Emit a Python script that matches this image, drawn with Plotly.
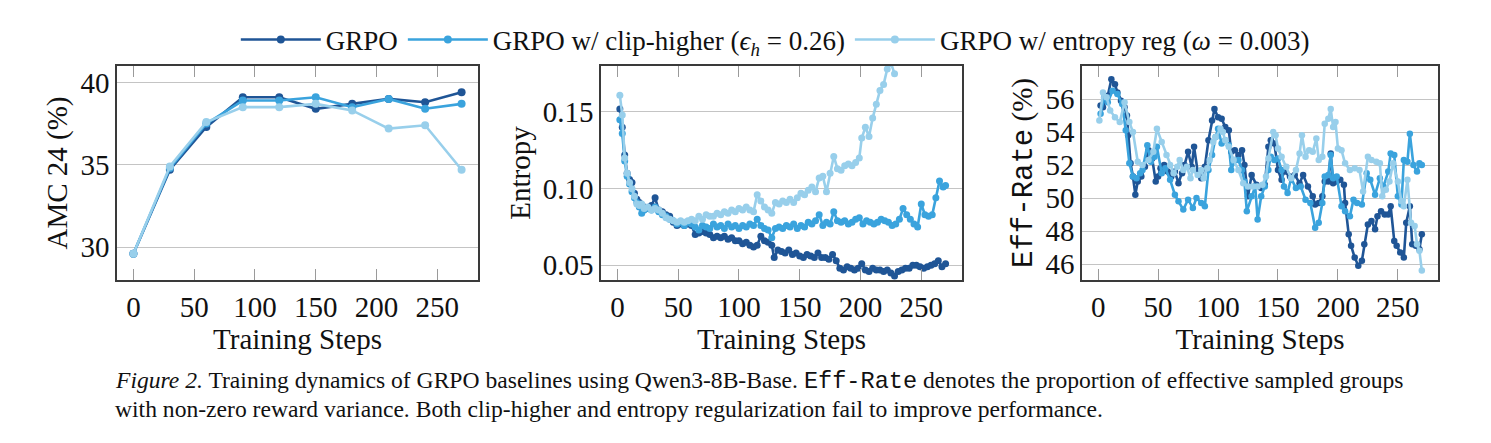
import plotly.graph_objects as go

# ---------------- data ----------------
amc_steps = [0, 30, 60, 90, 120, 150, 180, 210, 240, 270]
amc_grpo = [29.6, 34.7, 37.3, 39.1, 39.1, 38.4, 38.7, 39.0, 38.8, 39.4]
amc_clip = [29.6, 34.8, 37.5, 38.9, 38.9, 39.1, 38.5, 39.0, 38.4, 38.7]
amc_ent = [29.6, 34.9, 37.6, 38.5, 38.5, 38.7, 38.3, 37.2, 37.4, 34.7]

ent_grpo_steps = [2, 4, 6, 8, 10, 12, 14, 16, 18, 20, 22, 25, 28, 31, 34, 37, 40, 43, 46, 49, 52, 55, 58, 61, 64, 67, 70, 73, 76, 79, 82, 85, 88, 91, 94, 97, 100, 103, 106, 109, 112, 115, 118, 121, 124, 127, 129, 132, 135, 138, 141, 144, 147, 150, 153, 156, 159, 162, 165, 168, 171, 174, 177, 180, 183, 186, 189, 192, 195, 198, 201, 204, 207, 210, 213, 216, 219, 222, 225, 228, 231, 234, 237, 240, 243, 246, 249, 252, 255, 258, 261, 264, 267, 270]
ent_grpo = [0.152, 0.140, 0.122, 0.110, 0.106, 0.104, 0.097, 0.093, 0.091, 0.089, 0.088, 0.087, 0.089, 0.094, 0.086, 0.085, 0.083, 0.082, 0.078, 0.076, 0.077, 0.076, 0.077, 0.076, 0.070, 0.071, 0.072, 0.071, 0.070, 0.068, 0.069, 0.068, 0.069, 0.067, 0.068, 0.066, 0.066, 0.064, 0.065, 0.063, 0.062, 0.063, 0.069, 0.066, 0.065, 0.063, 0.055, 0.060, 0.059, 0.058, 0.060, 0.057, 0.058, 0.056, 0.055, 0.057, 0.056, 0.055, 0.058, 0.055, 0.055, 0.054, 0.057, 0.053, 0.048, 0.047, 0.049, 0.048, 0.047, 0.048, 0.051, 0.047, 0.046, 0.048, 0.047, 0.047, 0.046, 0.047, 0.045, 0.043, 0.046, 0.047, 0.048, 0.048, 0.050, 0.050, 0.049, 0.048, 0.049, 0.050, 0.051, 0.053, 0.049, 0.051]

ent_clip_steps = [2, 4, 6, 8, 10, 12, 14, 16, 18, 20, 22, 25, 28, 31, 34, 37, 40, 43, 46, 49, 52, 55, 58, 61, 64, 67, 70, 73, 76, 79, 82, 85, 88, 91, 94, 97, 100, 103, 106, 109, 112, 115, 118, 121, 124, 127, 130, 133, 136, 139, 142, 145, 148, 151, 154, 157, 160, 163, 166, 169, 172, 175, 178, 181, 184, 187, 190, 193, 196, 199, 202, 205, 208, 211, 214, 217, 220, 223, 226, 229, 232, 235, 238, 241, 244, 247, 250, 253, 256, 259, 262, 265, 268, 270]
ent_clip = [0.145, 0.136, 0.118, 0.108, 0.103, 0.098, 0.094, 0.091, 0.088, 0.084, 0.086, 0.087, 0.086, 0.088, 0.085, 0.083, 0.082, 0.080, 0.079, 0.077, 0.078, 0.076, 0.078, 0.077, 0.075, 0.073, 0.076, 0.075, 0.074, 0.077, 0.075, 0.076, 0.074, 0.077, 0.075, 0.076, 0.074, 0.076, 0.075, 0.077, 0.076, 0.080, 0.076, 0.074, 0.073, 0.068, 0.074, 0.075, 0.074, 0.076, 0.075, 0.077, 0.074, 0.076, 0.075, 0.078, 0.077, 0.079, 0.083, 0.076, 0.078, 0.077, 0.085, 0.079, 0.078, 0.079, 0.077, 0.078, 0.080, 0.081, 0.077, 0.079, 0.078, 0.077, 0.078, 0.080, 0.079, 0.078, 0.076, 0.077, 0.080, 0.087, 0.083, 0.080, 0.077, 0.075, 0.090, 0.083, 0.082, 0.083, 0.094, 0.105, 0.101, 0.102]

ent_reg_steps = [2, 4, 6, 8, 10, 12, 14, 16, 18, 20, 22, 25, 28, 31, 34, 37, 40, 43, 46, 49, 52, 55, 58, 61, 64, 67, 70, 73, 76, 79, 82, 85, 88, 91, 94, 97, 100, 103, 106, 109, 112, 115, 118, 121, 124, 127, 130, 133, 136, 139, 142, 145, 148, 151, 154, 157, 160, 163, 166, 169, 172, 175, 178, 181, 184, 187, 190, 193, 196, 199, 201, 204, 207, 210, 213, 216, 219, 222, 225, 228]
ent_reg = [0.161, 0.148, 0.120, 0.110, 0.104, 0.100, 0.095, 0.090, 0.089, 0.090, 0.087, 0.088, 0.086, 0.087, 0.086, 0.084, 0.081, 0.080, 0.079, 0.078, 0.079, 0.078, 0.079, 0.080, 0.079, 0.082, 0.080, 0.083, 0.082, 0.082, 0.084, 0.083, 0.085, 0.084, 0.086, 0.085, 0.087, 0.086, 0.088, 0.086, 0.085, 0.096, 0.092, 0.088, 0.086, 0.084, 0.091, 0.090, 0.092, 0.091, 0.093, 0.091, 0.094, 0.097, 0.096, 0.099, 0.101, 0.098, 0.107, 0.108, 0.098, 0.110, 0.121, 0.113, 0.112, 0.115, 0.116, 0.115, 0.117, 0.120, 0.133, 0.140, 0.134, 0.146, 0.155, 0.164, 0.168, 0.178, 0.182, 0.175]

eff_grpo_steps = [2, 4, 6, 8, 11, 14, 16, 19, 22, 24, 25, 27, 29, 31, 33, 36, 39, 42, 45, 48, 50, 52, 55, 58, 61, 64, 67, 70, 72, 75, 78, 80, 83, 86, 89, 92, 95, 97, 100, 103, 106, 109, 111, 114, 117, 120, 122, 125, 128, 132, 136, 139, 142, 144, 147, 150, 153, 155, 160, 164, 168, 171, 175, 179, 181, 184, 187, 189, 192, 194, 196, 199, 202, 205, 206, 209, 211, 214, 217, 220, 222, 225, 228, 231, 233, 236, 239, 242, 244, 247, 249, 252, 255, 257, 260, 262, 265, 268, 270]
eff_grpo = [55.6, 55.5, 55.9, 56.2, 57.2, 56.9, 56.4, 55.9, 55.5, 55.0, 53.8, 52.1, 51.3, 50.2, 51.0, 51.3, 51.9, 52.9, 52.4, 51.0, 51.3, 51.8, 52.0, 51.6, 51.3, 51.6, 50.9, 51.5, 52.0, 52.8, 51.9, 53.1, 51.6, 51.2, 51.9, 53.5, 54.7, 55.4, 54.9, 54.8, 54.3, 54.1, 52.8, 52.9, 52.6, 52.9, 52.0, 50.1, 51.4, 50.8, 50.6, 50.8, 53.1, 53.5, 53.3, 51.7, 51.1, 51.6, 51.3, 51.4, 50.9, 51.4, 50.7, 50.1, 49.6, 49.7, 50.1, 51.0, 51.0, 52.7, 50.9, 51.0, 51.1, 50.8, 49.7, 47.8, 47.1, 46.4, 45.9, 46.2, 47.2, 48.4, 48.6, 48.1, 48.9, 49.2, 49.0, 49.0, 49.5, 47.4, 47.1, 46.7, 46.4, 48.5, 49.5, 47.2, 47.1, 46.9, 47.8]

eff_clip_steps = [2, 5, 8, 12, 16, 20, 23, 26, 29, 32, 35, 37, 41, 44, 47, 49, 53, 56, 60, 64, 67, 71, 75, 79, 82, 86, 89, 92, 95, 98, 100, 103, 106, 109, 111, 114, 117, 120, 122, 124, 128, 131, 133, 136, 139, 142, 144, 147, 150, 153, 155, 158, 161, 165, 169, 173, 177, 181, 184, 187, 189, 192, 194, 196, 199, 203, 206, 210, 213, 216, 220, 224, 227, 231, 235, 238, 242, 244, 247, 250, 253, 255, 258, 260, 263, 266, 268, 270]
eff_clip = [55.1, 56.1, 55.8, 56.5, 56.3, 55.7, 54.1, 52.1, 51.3, 51.2, 51.5, 51.7, 53.2, 52.2, 52.5, 53.1, 51.5, 51.8, 51.1, 50.2, 49.8, 49.3, 49.9, 49.4, 50.0, 49.7, 49.5, 51.7, 52.6, 53.7, 54.2, 53.3, 53.5, 53.2, 51.7, 52.3, 52.3, 51.7, 51.0, 49.2, 50.1, 50.7, 48.7, 50.1, 50.7, 51.7, 52.5, 52.3, 52.4, 51.7, 50.7, 50.3, 51.2, 50.6, 50.7, 49.9, 49.7, 48.2, 48.5, 49.7, 51.3, 51.4, 52.6, 51.2, 51.3, 49.5, 49.2, 48.9, 49.9, 49.7, 49.6, 51.5, 51.1, 50.2, 51.2, 50.7, 51.6, 52.7, 52.6, 50.1, 49.6, 52.3, 52.2, 53.9, 52.0, 51.6, 52.1, 52.0]

eff_reg_steps = [1, 4, 7, 10, 14, 18, 22, 26, 29, 33, 37, 42, 46, 49, 53, 57, 60, 63, 66, 68, 71, 74, 77, 79, 83, 86, 88, 91, 93, 96, 98, 102, 104, 106, 109, 113, 117, 121, 125, 129, 133, 137, 140, 142, 146, 148, 150, 153, 157, 161, 165, 168, 170, 173, 176, 179, 182, 184, 187, 189, 192, 194, 196, 198, 200, 203, 206, 210, 214, 218, 221, 225, 228, 232, 235, 237, 240, 243, 246, 250, 253, 255, 258, 261, 264, 266, 268, 270]
eff_reg = [54.7, 56.4, 56.1, 55.3, 54.9, 54.6, 55.8, 54.6, 54.0, 52.2, 52.0, 52.3, 52.8, 54.2, 53.4, 52.6, 52.0, 51.5, 51.9, 52.3, 51.7, 51.9, 51.2, 51.7, 51.4, 51.7, 51.2, 51.8, 52.3, 53.4, 53.7, 54.2, 54.0, 53.5, 53.1, 52.3, 51.7, 50.9, 50.7, 50.7, 50.7, 50.8, 51.3, 52.4, 54.0, 53.8, 53.0, 52.5, 51.9, 51.2, 51.7, 52.7, 53.8, 52.5, 52.9, 52.8, 53.6, 52.3, 52.5, 54.5, 54.8, 55.4, 54.3, 54.6, 53.0, 52.9, 52.1, 51.7, 51.8, 51.7, 50.4, 52.5, 52.3, 52.2, 52.1, 50.1, 50.5, 51.0, 52.1, 51.0, 49.8, 49.5, 51.1, 48.5, 48.3, 47.2, 46.8, 45.6]

series_names = ["GRPO", "GRPO w/ clip-higher (<i>ϵ</i><sub><i>h</i></sub> = 0.26)",
                "GRPO w/ entropy reg (<i>ω</i> = 0.003)"]
colors = ["#1f5596", "#3aa3dd", "#98cfeb"]

x_ticks = [0, 50, 100, 150, 200, 250]

# ---------------- figure ----------------
W, H = 1491, 443
fig = go.Figure()

panels = [
    ("x", "y", [(amc_steps, amc_grpo), (amc_steps, amc_clip), (amc_steps, amc_ent)], 8, 2.6),
    ("x2", "y2", [(ent_grpo_steps, ent_grpo), (ent_clip_steps, ent_clip), (ent_reg_steps, ent_reg)], 7, 2.6),
    ("x3", "y3", [(eff_grpo_steps, eff_grpo), (eff_clip_steps, eff_clip), (eff_reg_steps, eff_reg)], 6.5, 2.6),
]

for pi, (xa, ya, data, msize, lw) in enumerate(panels):
    for si, (xs, ys) in enumerate(data):
        fig.add_trace(go.Scatter(
            x=xs, y=ys, xaxis=xa, yaxis=ya, mode="lines+markers",
            line=dict(color=colors[si], width=lw),
            marker=dict(color=colors[si], size=msize),
            name=series_names[si], showlegend=(pi == 0),
            legendrank=si + 1,
        ))

SERIF = "Liberation Serif, Times New Roman, serif"


def px_x(a, b):
    return [a / W, b / W]


y_dom = [1 - 280 / H, 1 - 66 / H]

common_x = dict(range=[-13.5, 283.5], tickvals=x_ticks, ticks="inside", ticklen=11,
                tickcolor="#9a9a9a", tickwidth=1.2, showline=True, linecolor="#3a3a3a",
                linewidth=1.6, mirror="ticks", showgrid=False, zeroline=False,
                tickfont=dict(family=SERIF, size=29, color="#111"),
                title=dict(text="Training Steps", font=dict(family=SERIF, size=29, color="#111"),
                           standoff=0))
common_y = dict(showline=True, linecolor="#3a3a3a", linewidth=1.6, mirror=True,
                showgrid=True, gridcolor="#c4c4c4", gridwidth=1.3, zeroline=False,
                ticks="", tickfont=dict(family=SERIF, size=29, color="#111"))

fig.update_layout(
    width=W, height=H, margin=dict(l=0, r=0, t=0, b=0),
    paper_bgcolor="white", plot_bgcolor="white",
    font=dict(family=SERIF, color="#111"),
    xaxis=dict(domain=px_x(117, 478), anchor="y", **common_x),
    xaxis2=dict(domain=px_x(601, 962), anchor="y2", **common_x),
    xaxis3=dict(domain=px_x(1082, 1438), anchor="y3", **common_x),
    yaxis=dict(domain=y_dom, anchor="x", range=[28.0, 41.0], tickvals=[30, 35, 40],
               title=dict(text="AMC 24 (%)", font=dict(family=SERIF, size=29, color="#111"), standoff=4),
               **common_y),
    yaxis2=dict(domain=y_dom, anchor="x2", range=[0.0404, 0.180], tickvals=[0.05, 0.10, 0.15],
                tickformat=".2f",
                title=dict(text="Entropy", font=dict(family=SERIF, size=29, color="#111"), standoff=4),
                **common_y),
    yaxis3=dict(domain=y_dom, anchor="x3", range=[45.03, 58.0], tickvals=[46, 48, 50, 52, 54, 56],
                title=dict(text="<span style='font-family:Liberation Mono'>Eff-Rate</span> (%)",
                           font=dict(family=SERIF, size=29, color="#111"), standoff=4),
                **common_y),
    legend=dict(orientation="h", x=0.52, xanchor="center", y=1 - 40 / H, yanchor="middle",
                font=dict(family=SERIF, size=27, color="#111"), bgcolor="rgba(0,0,0,0)",
                itemwidth=80, tracegroupgap=0),
)

cap1 = ("<i>Figure 2.</i> Training dynamics of GRPO baselines using Qwen3-8B-Base. "
        "<span style='font-family:Liberation Mono'>Eff-Rate</span> denotes the proportion of "
        "effective sampled groups")
cap2 = ("with non-zero reward variance. Both clip-higher and entropy regularization fail to "
        "improve performance.")
for txt, ypx in [(cap1, 381), (cap2, 409)]:
    fig.add_annotation(text=txt, xref="paper", yref="paper", x=113 / W, y=1 - ypx / H,
                       xanchor="left", yanchor="middle", showarrow=False,
                       font=dict(family=SERIF, size=23.6, color="#111"))

fig.write_html("out.html")
